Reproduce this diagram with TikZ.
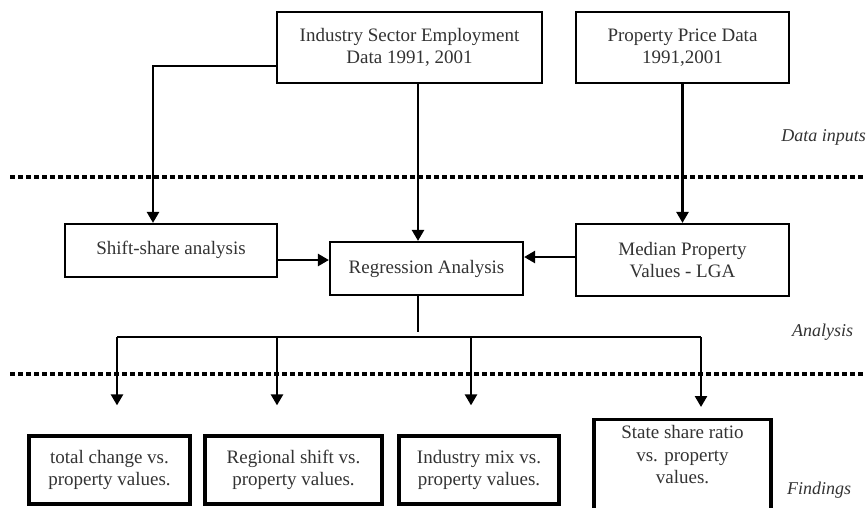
\documentclass[tikz,border=0pt]{standalone}
\usepackage{fontspec}
\setmainfont{Liberation Serif}
\usetikzlibrary{arrows.meta}
\begin{document}
\begin{tikzpicture}[x=1pt,y=-1pt,
  txt/.style={text=black!80, font=\fontsize{19}{22.5}\selectfont, align=center},
  boxa/.style={txt, draw, line width=2.2pt, inner sep=0pt},
  boxb/.style={txt, draw, line width=3.3pt, inner sep=0pt},
  lbl/.style={text=black!80, font=\fontsize{18}{21}\selectfont\itshape, inner sep=0pt},
  conn/.style={line width=2.5pt},
  arr/.style={line width=2.5pt, -{Triangle[length=11pt,width=12pt]}},
  sep/.style={line width=3.2pt, dash pattern=on 5pt off 3pt}
]
\useasboundingbox (0,0) rectangle (866,507);
\fill[white] (0,0) rectangle (866,507);

% top boxes
\node[boxa, minimum width=265pt, minimum height=71pt] (ind) at (409.5,47.5) {Industry Sector Employment\\Data 1991, 2001};
\node[boxa, minimum width=213pt, minimum height=71pt] (prop) at (682.5,47.5) {Property Price Data\\1991,2001};

% middle boxes
\node[boxa, minimum width=212pt, minimum height=53pt] (shift) at (171,250.5) {\raisebox{5pt}{Shift-share analysis}};
\node[boxa, minimum width=193pt, minimum height=53pt] (reg) at (426.5,268.5) {Regression Analysis};
\node[boxa, minimum width=213pt, minimum height=72pt] (med) at (682.5,260) {Median Property\\Values - LGA};

% findings boxes
\node[boxb, minimum width=161pt, minimum height=68pt] (f1) at (109.5,470) {total change vs.\\property values.};
\node[boxb, minimum width=177pt, minimum height=68pt] (f2) at (293.5,470) {Regional shift vs.\\property values.};
\node[boxb, minimum width=160pt, minimum height=68pt] (f3) at (479,470) {Industry mix vs.\\property values.};
\node[boxb, anchor=north] (f4) at (682.5,418) {\parbox[t][100pt][t]{177pt}{\centering\rule{0pt}{19pt}State share ratio\\vs. property\\values.}};

% separators
\draw[sep] (10,177) -- (866,177);
\draw[sep] (10,374) -- (866,374);

% labels
\node[lbl, anchor=east] (lin) at (866,137) {Data inputs};
\node[lbl, anchor=west] (lan) at (792,332) {Analysis};
\node[lbl, anchor=west] (lfi) at (787,490) {Findings};

% connectors
\coordinate (il) at ([yshift=-18.5pt]ind.west);
\draw[arr] (il) -| ([xshift=-18pt]shift.north);
\draw[arr] ([xshift=8.5pt]ind.south) -- ([xshift=-8.5pt]reg.north);
\draw[arr] (prop.south) -- (med.north);
\coordinate (sr) at ([yshift=-9.5pt]shift.east);
\draw[arr] (sr) -- (sr -| reg.west);
\coordinate (mr) at ([yshift=3pt]med.west);
\draw[arr] (mr) -- (mr -| reg.east);

\coordinate (stem) at (418,332);
\draw[conn] ([xshift=-8.5pt]reg.south) -- (stem);
\coordinate (b1) at (117,337);
\coordinate (b2) at (277,337);
\coordinate (b3) at (471,337);
\coordinate (b4) at (701,337);
\draw[conn] (b1) -- (b4);
\draw[arr, shorten >=29pt] (b1) -- (b1 |- f1.north);
\draw[arr, shorten >=29pt] (b2) -- (b2 |- f2.north);
\draw[arr, shorten >=29pt] (b3) -- (b3 |- f3.north);
\draw[arr, shorten >=11pt] (b4) -- (b4 |- f4.north);
\end{tikzpicture}
\end{document}
